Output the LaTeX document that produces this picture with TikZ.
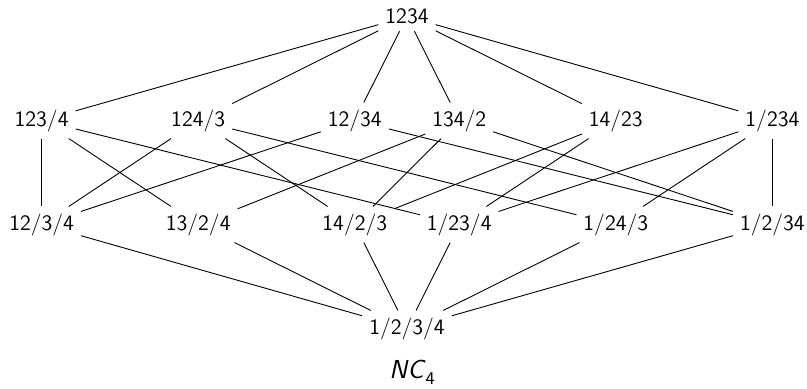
\documentclass[tikz,border=0pt]{standalone}
\usepackage{fontspec}
\begin{document}
\begin{tikzpicture}[x=26.1pt, y=52pt,
  part/.style={font=\sffamily\fontsize{11}{13}\selectfont, inner sep=0.3333em},
  edge/.style={line width=0.45pt}]
\useasboundingbox (-203.5pt,8.25pt) rectangle (200pt,-185.75pt);

% top element
\node[part] (top) at (0,0) {1234};

% two blocks
\node[part] (a1) at (-7,-1) {123/4};
\node[part] (a2) at (-4,-1) {124/3};
\node[part] (a3) at (-1,-1) {12/34};
\node[part] (a4) at ( 1,-1) {134/2};
\node[part] (a5) at ( 4,-1) {14/23};
\node[part] (a6) at ( 7,-1) {1/234};

% three blocks
\node[part] (b1) at (-7,-2) {12/3/4};
\node[part] (b2) at (-4,-2) {13/2/4};
\node[part] (b3) at (-1,-2) {14/2/3};
\node[part] (b4) at ( 1,-2) {1/23/4};
\node[part] (b5) at ( 4,-2) {1/24/3};
\node[part] (b6) at ( 7,-2) {1/2/34};

% bottom element
\node[part] (bot) at (0,-3) {1/2/3/4};

% caption
\node[anchor=base, font=\sffamily\fontsize{13}{15}\selectfont, inner sep=0pt]
  (cap) at (0.1,-181pt)
  {\textit{NC}\smash{\raisebox{-3pt}{\fontsize{9}{10}\selectfont 4}}};

% cover relations
\foreach \n in {a1,a2,a3,a4,a5,a6} \draw[edge] (top) -- (\n);
\foreach \n in {b1,b2,b3,b4,b5,b6} \draw[edge] (\n) -- (bot);

\draw[edge] (a1) -- (b1);
\draw[edge] (a1) -- (b2);
\draw[edge] (a1) -- (b4);
\draw[edge] (a2) -- (b1);
\draw[edge] (a2) -- (b3);
\draw[edge] (a2) -- (b5);
\draw[edge] (a3) -- (b1);
\draw[edge] (a3) -- (b6);
\draw[edge] (a4) -- (b2);
\draw[edge] (a4) -- (b3);
\draw[edge] (a4) -- (b6);
\draw[edge] (a5) -- (b3);
\draw[edge] (a5) -- (b4);
\draw[edge] (a6) -- (b4);
\draw[edge] (a6) -- (b5);
\draw[edge] (a6) -- (b6);
\end{tikzpicture}
\end{document}
